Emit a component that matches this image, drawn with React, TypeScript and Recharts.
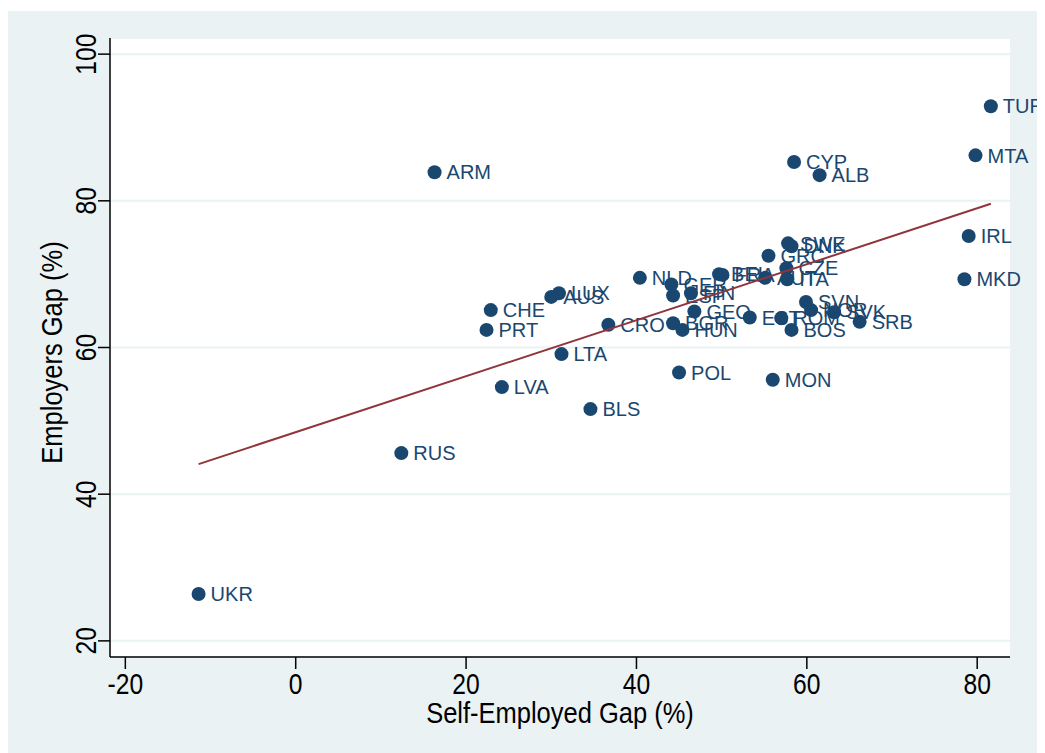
import React from "react";
import { ScatterChart, Scatter, XAxis, YAxis, CartesianGrid, Label } from "recharts";

const countries = ["UKR","RUS","ARM","CHE","PRT","LVA","AUS","LUX","LTA","BLS","CRO","NLD","GER","ESP","FIN","GEO","BGR","HUN","POL","BEL","FRA","EST","AUT","GRC","CZE","ITA","SWE","DNK","MON","ROM","BOS","SVN","NOR","SVK","SRB","CYP","ALB","MTA","TUR","IRL","MKD"];
const selfEmployedGap = [-11.4,12.4,16.3,22.9,22.4,24.2,30.0,30.9,31.2,34.6,36.7,40.4,44.1,44.3,46.4,46.8,44.3,45.4,45.0,49.7,50.1,53.3,55.1,55.5,57.6,57.7,57.8,58.2,56.0,57.0,58.2,59.9,60.5,63.2,66.2,58.5,61.5,79.8,81.6,79.0,78.5];
const employersGap = [26.4,45.6,83.9,65.1,62.4,54.6,66.9,67.4,59.1,51.6,63.1,69.5,68.6,67.1,67.4,64.9,63.3,62.4,56.6,70.0,69.9,64.1,69.5,72.5,70.8,69.3,74.2,73.8,55.6,64.0,62.4,66.2,65.1,64.8,63.5,85.3,83.5,86.2,92.9,75.2,69.3];

const fitX = [-11.4, 81.6];
const fitY = [44.1, 79.6];

const xTicks = [-20, 0, 20, 40, 60, 80];
const yTicks = [20, 40, 60, 80, 100];

const points = countries.map((name, i) => ({ name, x: selfEmployedGap[i], y: employersGap[i] }));
const fit = fitX.map((x, i) => ({ x, y: fitY[i] }));

const NAVY = "#1a476f";
const MAROON = "#90353b";
const BG = "#eaf2f3";
const SANS = "'Liberation Sans', Arial, Helvetica, sans-serif";
const SQ = 0.85;

const Marker = (props: any) => {
  const { cx, cy } = props;
  if (cx == null || cy == null) return <g />;
  return <circle cx={cx} cy={cy} r={7} fill={NAVY} />;
};

const TextMark = (props: any) => {
  const { cx, cy, payload } = props;
  if (cx == null || cy == null) return <g />;
  return (
    <text x={cx + 12} y={cy} dy="0.36em" fill={NAVY} fontSize={20} fontFamily={SANS}>
      {payload.name}
    </text>
  );
};

const NoMark = () => <g />;

const XTick = (props: any) => {
  const { x, y, payload } = props;
  return (
    <g transform={`translate(${x} ${y}) scale(${SQ} 1)`}>
      <text x={0} y={0} dy={21} textAnchor="middle" fill="#000" fontSize={29} fontFamily={SANS}>
        {payload.value}
      </text>
    </g>
  );
};

const YTick = (props: any) => {
  const { x, y, payload } = props;
  return (
    <g transform={`translate(${x} ${y}) rotate(-90) scale(${SQ} 1)`}>
      <text x={0} y={0} textAnchor="middle" fill="#000" fontSize={29} fontFamily={SANS}>
        {payload.value}
      </text>
    </g>
  );
};

const YTitle = (props: any) => {
  const vb = props.viewBox || {};
  const cx = 44;
  const cy = (vb.y || 0) + (vb.height || 0) / 2 + 5;
  return (
    <g transform={`translate(${cx} ${cy}) rotate(-90) scale(${SQ} 1)`}>
      <text x={0} y={0} textAnchor="middle" dominantBaseline="central" fill="#000" fontSize={30} fontFamily={SANS}>
        Employers Gap (%)
      </text>
    </g>
  );
};

const XTitle = (props: any) => {
  const vb = props.viewBox || {};
  const cx = (vb.x || 0) + (vb.width || 0) / 2;
  const cy = 702;
  return (
    <g transform={`translate(${cx} ${cy}) scale(${SQ} 1)`}>
      <text x={0} y={0} textAnchor="middle" dominantBaseline="central" fill="#000" fontSize={30} fontFamily={SANS}>
        Self-Employed Gap (%)
      </text>
    </g>
  );
};

export default function App() {
  return (
    <div style={{ width: 1029, height: 742, marginTop: 3, background: BG, overflow: "visible" }}>
      <ScatterChart width={1037} height={742} margin={{ top: 27, right: 35, bottom: 0, left: 0 }}>
        <CartesianGrid horizontal={true} vertical={false} stroke={BG} strokeWidth={2} fill="#ffffff" />
        <XAxis
          type="number"
          dataKey="x"
          domain={[-21.8, 83.85]}
          ticks={xTicks}
          height={96}
          tickSize={12}
          tickMargin={4}
          tick={<XTick />}
          axisLine={{ stroke: "#000", strokeWidth: 1.5 }}
          tickLine={{ stroke: "#000", strokeWidth: 1.5 }}
        >
          <Label content={<XTitle />} />
        </XAxis>
        <YAxis
          type="number"
          dataKey="y"
          domain={[17.8, 102.2]}
          ticks={yTicks}
          width={102}
          tickSize={12}
          tickMargin={2}
          tick={<YTick />}
          axisLine={{ stroke: "#000", strokeWidth: 1.5 }}
          tickLine={{ stroke: "#000", strokeWidth: 1.5 }}
        >
          <Label content={<YTitle />} />
        </YAxis>
        <Scatter data={points} shape={<TextMark />} isAnimationActive={false} />
        <Scatter data={points} shape={<Marker />} isAnimationActive={false} />
        <Scatter data={fit} shape={<NoMark />} line={{ stroke: MAROON, strokeWidth: 2 }} lineType="joint" isAnimationActive={false} />
      </ScatterChart>
    </div>
  );
}
